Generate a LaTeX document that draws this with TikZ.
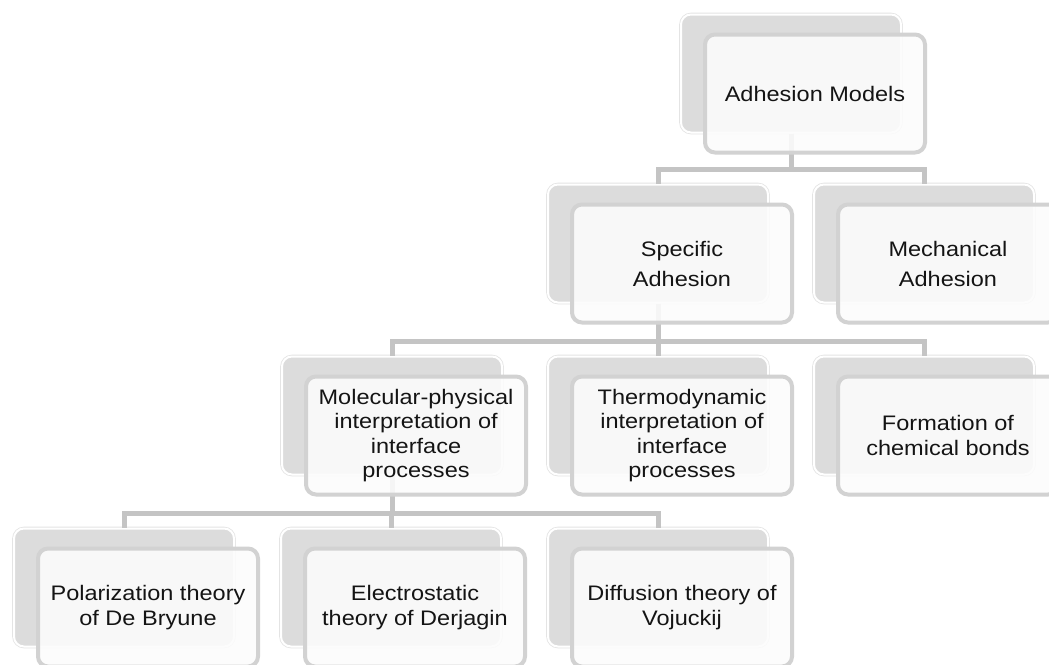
\documentclass[tikz,border=0pt]{standalone}
\usepackage{fontspec}
\setmainfont{Liberation Sans}[FakeStretch=1.12]
\definecolor{backfill}{HTML}{DCDCDC}
\definecolor{backline}{HTML}{E4E4E4}
\definecolor{frontdraw}{HTML}{D2D2D2}
\definecolor{frontfill}{HTML}{FCFCFC}
\definecolor{connc}{HTML}{C4C4C4}
\tikzset{
  backbox/.style={rectangle, rounded corners=10pt, minimum width=220pt, minimum height=118pt,
    fill=backfill, draw=white, line width=2pt, preaction={draw=backline, line width=3.6pt}},
  frontbox/.style={rectangle, rounded corners=10pt, minimum width=220pt, minimum height=118pt,
    fill=frontfill, fill opacity=0.88, text opacity=1, draw=frontdraw, draw opacity=1,
    line width=4pt, align=center, text=black!92, inner sep=2pt,
    font=\fontsize{21}{24.5}\selectfont},
  wide/.style={font=\fontsize{21}{30}\selectfont},
  conn/.style={draw=connc, line width=5pt}
}
\begin{document}
\begin{tikzpicture}[x=1pt, y=-1pt]
\useasboundingbox (0,0) rectangle (1049,664);
\clip (0,0) rectangle (1049,664);
\fill[white] (0,0) rectangle (1049,664);
% back boxes
\node[backbox] (rootb) at (791,73.5) {};
\node[backbox] (specb) at (658,243.5) {};
\node[backbox] (mechb) at (924,243.5) {};
\node[backbox] (molb) at (392,415.5) {};
\node[backbox] (thermb) at (658,415.5) {};
\node[backbox] (formb) at (924,415.5) {};
\node[backbox] (polb) at (124,587.5) {};
\node[backbox] (elecb) at (391,587.5) {};
\node[backbox] (diffb) at (658,587.5) {};
% bar levels
\coordinate (bar1) at (0,169);
\coordinate (bar2) at (0,341);
\coordinate (bar3) at (0,513);
% connectors
\draw[conn] (rootb.south) -- (rootb.south |- bar1) -| (specb.north);
\draw[conn] (rootb.south) -- (rootb.south |- bar1) -| (mechb.north);
\draw[conn] (specb.south) -- (specb.south |- bar2) -| (molb.north);
\draw[conn] (specb.south) -- (specb.south |- bar2) -| (thermb.north);
\draw[conn] (specb.south) -- (specb.south |- bar2) -| (formb.north);
\draw[conn] (molb.south) -- (molb.south |- bar3) -| (polb.north);
\draw[conn] (molb.south) -- (molb.south |- bar3) -| (elecb.north);
\draw[conn] (molb.south) -- (molb.south |- bar3) -| (diffb.north);
% front boxes
\node[frontbox] (root) at (815,93.5) {Adhesion Models};
\node[frontbox, wide] (spec) at (682,263.5) {Specific\\Adhesion};
\node[frontbox, wide] (mech) at (948,263.5) {Mechanical\\Adhesion};
\node[frontbox] (mol) at (416,435.5) {Molecular-physical\\interpretation of\\interface\\processes};
\node[frontbox] (therm) at (682,435.5) {Thermodynamic\\interpretation of\\interface\\processes};
\node[frontbox] (form) at (948,435.5) {Formation of\\chemical bonds};
\node[frontbox] (pol) at (148,607.5) {Polarization theory\\of De Bryune};
\node[frontbox] (elec) at (415,607.5) {Electrostatic\\theory of Derjagin};
\node[frontbox] (diff) at (682,607.5) {Diffusion theory of\\Vojuckij};
\end{tikzpicture}
\end{document}
